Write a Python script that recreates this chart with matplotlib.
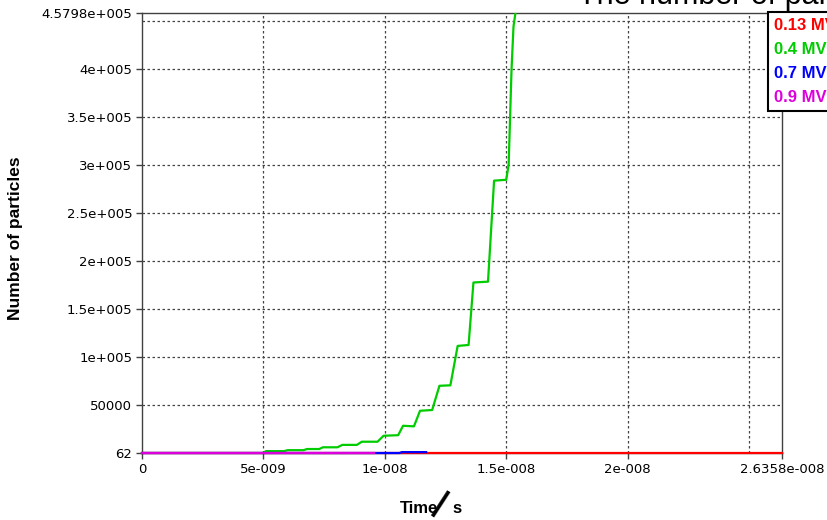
import numpy as np
import matplotlib
matplotlib.use('Agg')
import matplotlib.pyplot as plt
from matplotlib.ticker import FixedLocator, FixedFormatter

### data (time in ns, number of particles)
labels = ['0.13 MV', '0.4 MV', '0.7 MV', '0.9 MV']
colors = ['#ff0000', '#00cc00', '#0000ff', '#dd00dd']

red_t = [0.0, 26.358]
red_v = [62, 62]

green_t = [0.0, 5.0, 5.1, 5.85, 6.0, 6.65, 6.8, 7.3, 7.45, 8.05, 8.25, 8.85, 9.05, 9.7,
           9.95, 10.55, 10.75, 11.2, 11.45, 11.95, 12.25, 12.7, 13.0, 13.45, 13.65,
           14.25, 14.5, 15.0, 15.1, 15.22, 15.3, 15.45]
green_v = [62, 62, 2000, 2000, 3000, 3000, 4200, 4200, 6000, 6000, 8500, 8500, 11800, 11800,
           18000, 18600, 28400, 27800, 44000, 44800, 70000, 70500, 111500, 112500, 177500,
           178400, 283500, 284400, 300000, 400000, 444000, 470000]

blue_t = [0.0, 10.6, 10.7, 11.7]
blue_v = [62, 62, 1000, 1000]

magenta_t = [0.0, 9.55]
magenta_v = [62, 62]

x_ticks = [0, 5e-9, 1e-8, 1.5e-8, 2e-8, 2.6358e-8]
x_ticklabels = ['0', '5e-009', '1e-008', '1.5e-008', '2e-008', '2.6358e-008']
x_grid = [5e-9, 1e-8, 1.5e-8, 2e-8, 2.5e-8]

y_ticks = [62, 50000, 100000, 150000, 200000, 250000, 300000, 350000, 400000, 457980]
y_ticklabels = ['62', '50000', '1e+005', '1.5e+005', '2e+005', '2.5e+005', '3e+005',
                '3.5e+005', '4e+005', '4.5798e+005']
y_grid = [50000, 100000, 150000, 200000, 250000, 300000, 350000, 400000, 450000]

W, H = 827, 520
fig = plt.figure(figsize=(W / 100, H / 100), dpi=100)
ax = fig.add_axes([142 / W, 1 - 453 / H, (782 - 142) / W, (453 - 13) / H])

series = [(red_t, red_v), (green_t, green_v), (blue_t, blue_v), (magenta_t, magenta_v)]
handles = []
for (t, v), c, lab in zip(series, colors, labels):
    ln, = ax.plot(np.array(t) * 1e-9, v, color=c, lw=1.6, label=lab,
                  clip_on=(lab == '0.4 MV'), zorder=3)
    handles.append(ln)

ax.set_xlim(0, 2.6358e-8)
ax.set_ylim(62, 457980)

# grid lines sit on their own (minor) positions, keep them even where they meet a major tick
ax.xaxis.remove_overlapping_locs = False
ax.yaxis.remove_overlapping_locs = False
ax.xaxis.set_major_locator(FixedLocator(x_ticks))
ax.xaxis.set_major_formatter(FixedFormatter(x_ticklabels))
ax.yaxis.set_major_locator(FixedLocator(y_ticks))
ax.yaxis.set_major_formatter(FixedFormatter(y_ticklabels))
ax.xaxis.set_minor_locator(FixedLocator(x_grid))
ax.yaxis.set_minor_locator(FixedLocator(y_grid))
ax.tick_params(which='major', length=4, width=1, color='#404040', labelsize=9.5, pad=3)
ax.tick_params(which='minor', length=0)
ax.grid(which='minor', linestyle=(0, (2, 2)), color='#444444', lw=0.9)
for s in ax.spines.values():
    s.set_color('#404040')
    s.set_linewidth(1)

leg = fig.legend(handles=handles, loc='upper left', bbox_to_anchor=(768 / W, 1 - 12 / H),
                 bbox_transform=fig.transFigure, borderaxespad=0, handlelength=0,
                 handletextpad=0, labelcolor='linecolor', fancybox=False,
                 edgecolor='black', framealpha=1, borderpad=0.35, labelspacing=0.55,
                 prop={'family': 'Liberation Sans', 'weight': 'bold', 'size': 12})
leg.get_frame().set_linewidth(1.5)
for h in leg.legend_handles:
    h.set_visible(False)

fig.text(578 / W, 1 - 4 / H, 'The number of particles', fontsize=22,
         family='Liberation Sans', va='baseline', ha='left')

fig.text(16 / W, 1 - 238 / H, 'Number of particles', rotation=90, fontsize=12.5,
         family='Liberation Sans', weight='bold', va='center', ha='center')
fig.text(400 / W, 1 - 513 / H, 'Time', fontsize=12, family='Liberation Sans',
         weight='bold', va='baseline', ha='left')
fig.text(439 / W, 1 - 505 / H, '|', fontsize=22, family='Liberation Sans',
         weight='bold', rotation=-33, va='center', ha='center')
fig.text(452 / W, 1 - 513 / H, 's', fontsize=12, family='Liberation Sans',
         weight='bold', va='baseline', ha='left')

fig.savefig('out.png', dpi=100)
